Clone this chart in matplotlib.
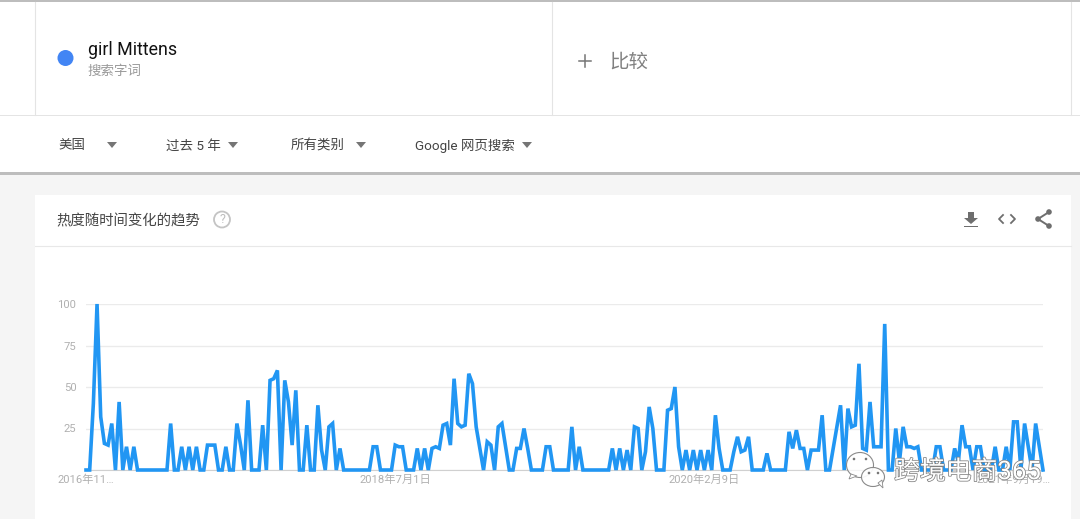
import matplotlib
matplotlib.use('Agg')
import matplotlib.pyplot as plt
import matplotlib.patheffects as pe
from matplotlib.patches import Circle, Ellipse, Polygon, Rectangle

plt.rcParams['font.family'] = ['Roboto', 'Noto Sans CJK SC', 'DejaVu Sans']

W, H = 1080, 519

# weekly interest
interest = [
    0, 0, 40, 100, 32, 16, 15, 28, 0, 41, 0, 14, 0, 14, 0, 0, 0, 0, 0, 0,
    0, 0, 0, 28, 0, 0, 14, 0, 14, 0, 14, 0, 0, 15, 15, 15, 0, 0, 14, 0,
    0, 28, 15, 0, 42, 0, 0, 0, 27, 0, 54, 55, 60, 0, 54, 41, 15, 48, 0, 0,
    27, 0, 0, 39, 12, 0, 26, 28, 0, 13, 0, 0, 0, 0, 0, 0, 0, 0, 14, 14,
    0, 0, 0, 0, 15, 14, 14, 0, 0, 0, 13, 0, 13, 0, 13, 14, 13, 27, 28, 15,
    55, 28, 26, 27, 58, 52, 26, 13, 0, 17, 15, 0, 26, 28, 14, 0, 0, 13, 13, 25,
    13, 0, 0, 0, 0, 14, 14, 0, 0, 0, 0, 0, 26, 0, 14, 0, 0, 0, 0, 0,
    0, 0, 0, 13, 0, 13, 0, 12, 0, 26, 25, 0, 11, 38, 25, 0, 0, 0, 36, 37,
    50, 14, 0, 12, 0, 12, 0, 12, 0, 12, 0, 33, 13, 0, 0, 0, 11, 20, 11, 12,
    20, 0, 0, 0, 0, 10, 0, 0, 0, 0, 0, 23, 13, 24, 13, 13, 0, 12, 12, 12,
    33, 0, 0, 13, 26, 39, 0, 37, 26, 27, 64, 13, 12, 41, 14, 14, 14, 88, 0, 0,
    25, 5, 26, 14, 14, 13, 14, 0, 0, 0, 0, 14, 14, 0, 0, 0, 13, 5, 27, 14,
    14, 0, 14, 14, 0, 0, 0, 14, 0, 0, 14, 0, 29, 29, 0, 28, 14, 0, 28, 14,
    0,
]
y_ticks = [0, 25, 50, 75, 100]
y_labels = ['', '25', '50', '75', '100']
x_ticks = [0, 84, 168, 252]
x_labels = ['2016年11…', '2018年7月1日', '2020年2月9日', '2021年9月19…']

filters = ['美国', '过去 5 年', '所有类别', 'Google 网页搜索']
filter_x = [58, 166, 291, 415]
arrow_x = [112, 233, 361, 527]

fig = plt.figure(figsize=(W / 100, H / 100), dpi=100, facecolor='white')

# page furniture, in pixels from the top left
bg = fig.add_axes([0, 0, 1, 1])
bg.set_xlim(0, W)
bg.set_ylim(H, 0)
bg.axis('off')

bg.add_patch(Rectangle((0, 0), W, 2, fc='#bdbdbd', ec='none'))
bg.add_patch(Rectangle((0, 115), W, 1, fc='#e4e4e4', ec='none'))
for x in [34.5, 551.5, 1070.5]:
    bg.plot([x + 0.5, x + 0.5], [2, 115], color='#e4e4e4', lw=0.8)
bg.add_patch(Rectangle((0, 173), W, 346, fc='#f5f5f5', ec='none'))
bg.add_patch(Rectangle((0, 172), W, 2.5, fc='#bdbdbd', ec='none'))
bg.add_patch(Rectangle((35, 195), 1036, 324, fc='white', ec='none'))
bg.plot([35, 1071], [245.5, 245.5], color='#e8e8e8', lw=0.8)

bg.add_patch(Circle((65.5, 58), 8, fc='#4285f4', ec='none'))
bg.text(88, 50, 'girl Mittens', fontsize=12.8, color='#111111', va='center')
bg.text(87.5, 71, '搜索字词', fontsize=9.7, color='#9a9a9a', va='center')
bg.plot([579, 591], [60.5, 60.5], color='#757575', lw=1.1)
bg.plot([585, 585], [54.5, 66.5], color='#757575', lw=1.1)
bg.text(609, 62.5, '比较', fontsize=14, color='#808080', va='center')

for label, x, ax_x in zip(filters, filter_x, arrow_x):
    bg.text(x, 146, label, fontsize=9.7, color='#444444', va='center')
    bg.add_patch(Polygon([(ax_x - 5, 142), (ax_x + 5, 142), (ax_x, 148)], fc='#757575', ec='none'))

bg.text(56, 221.5, '热度随时间变化的趋势', fontsize=10.4, color='#444444', va='center')
bg.add_patch(Circle((222, 219.5), 8, fc='none', ec='#c4c4c4', lw=1.3))
bg.text(222, 219.5, '?', fontsize=9, color='#bdbdbd', ha='center', va='center')

# download, embed and share icons
bg.add_patch(Polygon([(968, 212), (974, 212), (974, 218), (978, 218), (971, 224), (964, 218), (968, 218)],
                     fc='#6e6e6e', ec='none'))
bg.add_patch(Rectangle((964, 225.5), 14, 1.6, fc='#6e6e6e', ec='none'))
bg.plot([1003, 999, 1003], [215, 219, 223], color='#6e6e6e', lw=1.3)
bg.plot([1011, 1015, 1011], [215, 219, 223], color='#6e6e6e', lw=1.3)
bg.plot([1049, 1038, 1049], [212, 219, 226], color='#6e6e6e', lw=1.4)
for x, y in [(1049, 212), (1038, 219), (1049, 226)]:
    bg.add_patch(Circle((x, y), 2.8, fc='#6e6e6e', ec='none'))

# the chart itself, 86..1043 px wide and 304..470 px high
ax = fig.add_axes([86 / W, 1 - 470 / H, 957 / W, 166 / H])
ax.patch.set_alpha(0)
ax.plot(range(len(interest)), interest, color='#2196f3', lw=2.6, solid_joinstyle='miter', clip_on=False, zorder=3)
ax.set_xlim(0, len(interest) - 1)
ax.set_ylim(0, 100)
ax.set_yticks(y_ticks, y_labels)
ax.set_xticks(x_ticks, x_labels)
ax.tick_params(length=0, labelsize=8.1, labelcolor='#b0b0b0')
ax.tick_params(axis='x', pad=3)
ax.tick_params(axis='y', pad=7)
ax.grid(axis='y', color='#ebebeb', lw=1)
ax.set_axisbelow(True)
for side in ['top', 'right', 'left']:
    ax.spines[side].set_visible(False)
ax.spines['bottom'].set_color('#d0d0d0')

# watermark over the chart
top = fig.add_axes([0, 0, 1, 1])
top.set_xlim(0, W)
top.set_ylim(H, 0)
top.axis('off')
top.patch.set_alpha(0)
top.add_patch(Ellipse((860, 465), 27, 25, fc=(1, 1, 1, 0.75), ec='#8a8a8a', lw=0.8))
top.add_patch(Polygon([(851, 474), (849, 479), (857, 476)], fc='white', ec='#8a8a8a', lw=0.6))
top.add_patch(Ellipse((873, 477), 23, 19, fc=(1, 1, 1, 0.92), ec='#8a8a8a', lw=0.8))
top.add_patch(Polygon([(878, 483), (883, 488), (882, 480)], fc='white', ec='#8a8a8a', lw=0.6))
for x, y in [(854, 459), (866, 459), (869, 473), (878, 473)]:
    top.add_patch(Circle((x, y), 1.3, fc='#777777', ec='none'))
top.text(894, 472, '跨境电商365', fontsize=18.6, color='white', va='center',
         path_effects=[pe.withStroke(linewidth=1.1, foreground='#808080')])

fig.savefig('out.png', dpi=100)
